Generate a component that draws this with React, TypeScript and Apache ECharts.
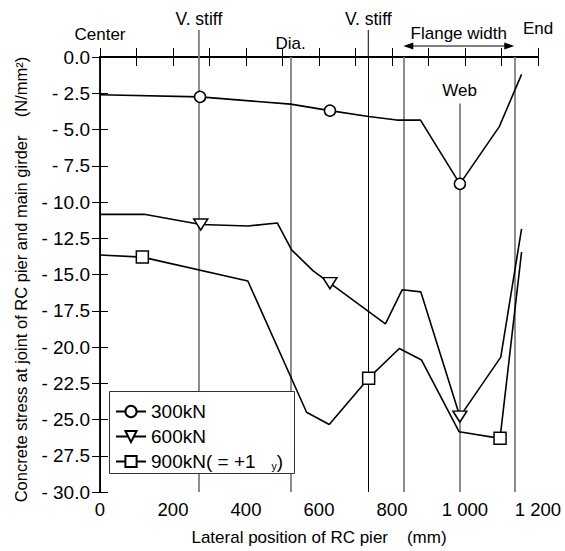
import React, { useEffect, useRef } from 'react';
import * as echarts from 'echarts';

const seriesNames = ['300kN', '600kN', '900kN'];

const pos300 = [0, 274, 522, 630, 736, 813, 878, 986, 1094, 1155];
const stress300 = [-2.6, -2.75, -3.25, -3.7, -4.1, -4.35, -4.35, -8.75, -4.8, -1.2];
const markers300 = [1, 3, 7];

const pos600 = [0, 121, 276, 406, 486, 525, 584, 630, 782, 828, 879, 986, 1098, 1155];
const stress600 = [-10.85, -10.85, -11.55, -11.65, -11.45, -13.3, -14.75, -15.6, -18.4, -16.05, -16.2, -24.8, -20.7, -11.85];
const markers600 = [2, 7, 11];

const pos900 = [0, 116, 405, 566, 628, 736, 820, 881, 984, 1096, 1155];
const stress900 = [-13.65, -13.8, -15.45, -24.5, -25.35, -22.15, -20.1, -20.9, -25.85, -26.3, -13.45];
const markers900 = [1, 5, 9];

// reference positions (mm)
const vStiff1 = 271;
const diaPos = 522;
const vStiff2 = 735;
const flangeStart = 831;
const webPos = 985;
const flangeEnd = 1135;
const webTop = -3.2;

const FONT = '"Liberation Sans", Arial, Helvetica, sans-serif';

function buildData(xs: number[], ys: number[], marks: number[]) {
  return xs.map((x, i) => (marks.includes(i) ? { value: [x, ys[i]] } : { value: [x, ys[i]], symbol: 'none' }));
}

export default function App() {
  const ref = useRef<HTMLDivElement>(null);
  useEffect(() => {
    if (!ref.current) return;
    const chart = echarts.init(ref.current, null, { renderer: 'svg' });
    const lineCommon = {
      type: 'line',
      showAllSymbol: true,
      lineStyle: { color: '#000', width: 1.6 },
      itemStyle: { color: '#fff', borderColor: '#000', borderWidth: 1.5 },
      color: '#000',
      z: 5,
    };
    const gray = '#808080';
    chart.setOption({
      animation: false,
      backgroundColor: '#fff',
      textStyle: { fontFamily: FONT, color: '#000' },
      grid: { left: 100, right: 27, top: 57, bottom: 58 },
      xAxis: [
        {
          type: 'value', min: 0, max: 1200, interval: 100, position: 'bottom',
          name: 'Lateral position of RC pier    (mm)', nameLocation: 'middle', nameGap: 37,
          nameTextStyle: { fontSize: 17, color: '#000', fontFamily: FONT },
          axisLine: { lineStyle: { color: '#000', width: 1.8 } },
          axisTick: { inside: true, length: 9, lineStyle: { color: '#000', width: 1 } },
          axisLabel: {
            fontSize: 18.5, color: '#000', margin: 8, fontFamily: FONT,
            formatter: (v: number) => v % 200 !== 0 ? '' : v >= 1000 ? `${Math.floor(v / 1000)} ${String(v % 1000).padStart(3, '0')}` : String(v),
          },
          splitLine: { show: false },
        },
        {
          type: 'value', min: 0, max: 1200, interval: 100, position: 'top',
          axisLine: { lineStyle: { color: '#000', width: 1 } },
          axisTick: { inside: true, length: 9, lineStyle: { color: '#000', width: 1 } },
          axisLabel: { show: false },
          splitLine: { show: false },
        },
      ],
      yAxis: [
        {
          type: 'value', min: -30, max: 0, interval: 2.5, position: 'left',
          name: 'Concrete stress at joint of RC pier and main girder    (N/mm²)',
          nameLocation: 'middle', nameGap: 71, nameRotate: 90,
          nameTextStyle: { fontSize: 16.5, color: '#000', fontFamily: FONT, padding: [0, 10, 0, 0] },
          axisLine: { lineStyle: { color: '#000', width: 1.8 } },
          axisTick: { inside: true, length: 8, lineStyle: { color: '#000', width: 1 } },
          axisLabel: {
            fontSize: 19, color: '#000', margin: 10, fontFamily: FONT,
            formatter: (v: number) => (v === 0 ? '0.0' : '- ' + Math.abs(v).toFixed(1)),
          },
          splitLine: { show: false },
        },
        {
          type: 'value', min: -30, max: 0, interval: 2.5, position: 'right',
          axisLine: { lineStyle: { color: '#000', width: 1 } },
          axisTick: { inside: true, length: 8, lineStyle: { color: '#000', width: 1 } },
          axisLabel: { show: false },
          splitLine: { show: false },
        },
      ],
      legend: {
        data: seriesNames,
        orient: 'vertical',
        left: 112,
        top: 399,
        padding: 3,
        itemWidth: 30,
        itemHeight: 14,
        itemGap: 6,
        z: 60,
        selectedMode: false,
        textStyle: {
          fontSize: 19, color: '#000', fontFamily: FONT, lineHeight: 18,
          rich: {
            s: { fontSize: 10.5, color: '#000', fontFamily: FONT, padding: [8, 0, 0, 0] },
          },
        },
        formatter: (name: string) => (name === '900kN' ? '900kN( = +1   {s|y})' : name),
      },
      series: [
        {
          ...lineCommon,
          name: '300kN',
          symbol: 'circle', symbolSize: 11,
          data: buildData(pos300, stress300, markers300),
        },
        {
          ...lineCommon,
          name: '600kN',
          symbol: 'triangle', symbolSize: [14, 11], symbolRotate: 180,
          data: buildData(pos600, stress600, markers600),
        },
        {
          ...lineCommon,
          name: '900kN',
          symbol: 'rect', symbolSize: 12,
          data: buildData(pos900, stress900, markers900),
        },
        {
          type: 'line', name: 'refs', data: [], z: 3,
          markLine: {
            silent: true, symbol: 'none', label: { show: false },
            data: [
              { xAxis: vStiff1, lineStyle: { color: gray, width: 1.8, type: 'solid' } },
              { xAxis: diaPos, lineStyle: { color: gray, width: 1.8, type: 'solid' } },
              { xAxis: vStiff2, lineStyle: { color: '#000', width: 1, type: 'solid' } },
              { xAxis: flangeStart, lineStyle: { color: gray, width: 1.8, type: 'solid' } },
              { xAxis: flangeEnd, lineStyle: { color: gray, width: 1.8, type: 'solid' } },
              [
                { coord: [webPos, webTop], lineStyle: { color: gray, width: 1.8, type: 'solid' } },
                { coord: [webPos, -30] },
              ],
            ],
          },
        },
      ],
    });

    const px = (v: number) => chart.convertToPixel({ xAxisIndex: 0 }, v) as number;
    const py = (v: number) => chart.convertToPixel({ yAxisIndex: 0 }, v) as number;
    const top = py(0);
    const txt = (text: string, x: number, y: number, size = 17) => ({
      type: 'text', z: 70,
      style: { text, x, y, fill: '#000', font: `${size}px ${FONT}`, align: 'center', verticalAlign: 'middle' },
    });
    const aY = 46;
    const a1 = px(flangeStart);
    const a2 = px(flangeEnd);
    chart.setOption({
      graphic: [
        { type: 'rect', z: 50, shape: { x: 109.5, y: 391.5, width: 185, height: 82 }, style: { fill: '#fff', stroke: '#333', lineWidth: 1 } },
        { type: 'line', z: 40, shape: { x1: px(vStiff1), y1: 30, x2: px(vStiff1), y2: top }, style: { stroke: gray, lineWidth: 1.8 } },
        { type: 'line', z: 40, shape: { x1: px(vStiff2), y1: 30, x2: px(vStiff2), y2: top }, style: { stroke: '#000', lineWidth: 1 } },
        txt('Center', px(0), 34),
        txt('V. stiff', px(vStiff1), 18.5, 17.5),
        txt('Dia.', px(diaPos), 43),
        txt('V. stiff', px(vStiff2), 18.5, 17.5),
        txt('Flange width', (a1 + a2) / 2, 33),
        txt('End', px(1200), 28.5),
        txt('Web', px(webPos), 90),
        { type: 'line', z: 40, shape: { x1: a1 + 4, y1: aY, x2: a2 - 4, y2: aY }, style: { stroke: '#000', lineWidth: 1.2 } },
        { type: 'polygon', z: 40, shape: { points: [[a1, aY], [a1 + 10, aY - 3.5], [a1 + 10, aY + 3.5]] }, style: { fill: '#000' } },
        { type: 'polygon', z: 40, shape: { points: [[a2, aY], [a2 - 10, aY - 3.5], [a2 - 10, aY + 3.5]] }, style: { fill: '#000' } },
      ],
    });
    return () => chart.dispose();
  }, []);
  return <div ref={ref} style={{ position: 'fixed', left: 0, top: 0, width: 565, height: 551, background: '#fff' }} />;
}
